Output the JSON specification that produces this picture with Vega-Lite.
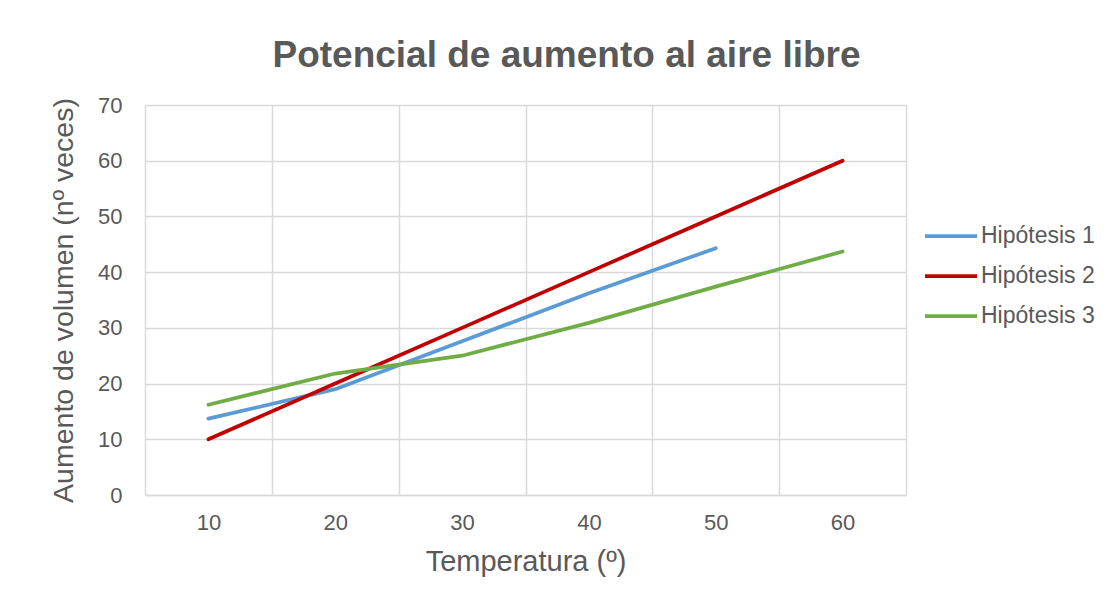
{
  "$schema": "https://vega.github.io/schema/vega-lite/v6.json",
  "width": 761,
  "height": 390,
  "autosize": {"type": "none"},
  "padding": {"left": 145, "top": 105, "right": 209, "bottom": 102},
  "background": "white",
  "title": {
    "text": "Potencial de aumento al aire libre",
    "font": "Liberation Sans",
    "fontSize": 37,
    "fontWeight": "bold",
    "color": "#595959",
    "anchor": "middle",
    "baseline": "alphabetic",
    "offset": -10,
    "dx": 41
  },
  "data": {
    "values": [
      {"t": 10, "v": 13.7, "s": "Hipótesis 1"},
      {"t": 20, "v": 19.0, "s": "Hipótesis 1"},
      {"t": 30, "v": 27.6, "s": "Hipótesis 1"},
      {"t": 40, "v": 36.2, "s": "Hipótesis 1"},
      {"t": 50, "v": 44.3, "s": "Hipótesis 1"},
      {"t": 10, "v": 10, "s": "Hipótesis 2"},
      {"t": 20, "v": 20, "s": "Hipótesis 2"},
      {"t": 30, "v": 30, "s": "Hipótesis 2"},
      {"t": 40, "v": 40, "s": "Hipótesis 2"},
      {"t": 50, "v": 50, "s": "Hipótesis 2"},
      {"t": 60, "v": 60, "s": "Hipótesis 2"},
      {"t": 10, "v": 16.2, "s": "Hipótesis 3"},
      {"t": 20, "v": 21.8, "s": "Hipótesis 3"},
      {"t": 30, "v": 25.0, "s": "Hipótesis 3"},
      {"t": 40, "v": 30.9, "s": "Hipótesis 3"},
      {"t": 50, "v": 37.4, "s": "Hipótesis 3"},
      {"t": 60, "v": 43.7, "s": "Hipótesis 3"}
    ]
  },
  "mark": {"type": "line", "strokeWidth": 3.75, "strokeCap": "round", "strokeJoin": "round"},
  "encoding": {
    "x": {
      "field": "t",
      "type": "quantitative",
      "scale": {"domain": [5, 65], "nice": false, "zero": false},
      "axis": {
        "title": "Temperatura (º)",
        "values": [5, 15, 25, 35, 45, 55, 65],
        "labelExpr": "datum.value == 65 ? '' : format(datum.value + 5, 'd')",
        "labelOffset": 63.4,
        "labelFlush": false,
        "labelOverlap": false,
        "ticks": false,
        "grid": true,
        "gridColor": "#D9D9D9",
        "gridWidth": 1.5,
        "domainColor": "#D9D9D9",
        "domainWidth": 1.5,
        "labelFont": "Liberation Sans",
        "labelFontSize": 22,
        "labelColor": "#595959",
        "labelPadding": 17,
        "titleFont": "Liberation Sans",
        "titleFontSize": 29,
        "titleFontWeight": "normal",
        "titleColor": "#595959",
        "titlePadding": 14
      }
    },
    "y": {
      "field": "v",
      "type": "quantitative",
      "scale": {"domain": [0, 70], "nice": false},
      "axis": {
        "title": "Aumento de volumen (nº veces)",
        "values": [0, 10, 20, 30, 40, 50, 60, 70],
        "ticks": false,
        "domain": false,
        "grid": true,
        "gridColor": "#D9D9D9",
        "gridWidth": 1.5,
        "labelFont": "Liberation Sans",
        "labelFontSize": 22,
        "labelColor": "#595959",
        "labelPadding": 23,
        "titleFont": "Liberation Sans",
        "titleFontSize": 28.5,
        "titleFontWeight": "normal",
        "titleColor": "#595959",
        "titlePadding": 19
      }
    },
    "color": {
      "field": "s",
      "type": "nominal",
      "scale": {
        "domain": ["Hipótesis 1", "Hipótesis 2", "Hipótesis 3"],
        "range": ["#5B9BD5", "#C00000", "#70AD47"]
      },
      "legend": {
        "title": null,
        "orient": "none",
        "legendX": 778,
        "legendY": 103,
        "padding": 0,
        "symbolType": "stroke",
        "symbolSize": 2704,
        "symbolStrokeWidth": 3.75,
        "rowPadding": -4,
        "labelOffset": 2,
        "labelFont": "Liberation Sans",
        "labelFontSize": 23,
        "labelColor": "#595959"
      }
    }
  },
  "config": {"view": {"stroke": null}}
}
